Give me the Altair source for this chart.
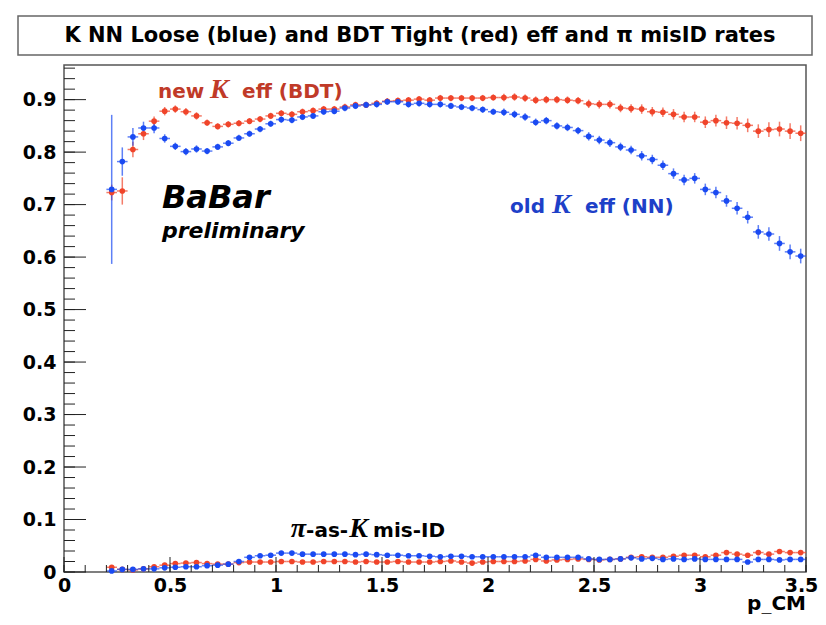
import altair as alt
import pandas as pd
import numpy as np

# ---- data ----
p_cm = [
    0.225, 0.275, 0.325, 0.375, 0.425, 0.475, 0.525, 0.575, 0.625, 0.675,
    0.725, 0.775, 0.825, 0.875, 0.925, 0.975, 1.025, 1.075, 1.125, 1.175,
    1.225, 1.275, 1.325, 1.375, 1.425, 1.475, 1.525, 1.575, 1.625, 1.675,
    1.725, 1.775, 1.825, 1.875, 1.925, 1.975, 2.025, 2.075, 2.125, 2.175,
    2.225, 2.275, 2.325, 2.375, 2.425, 2.475, 2.525, 2.575, 2.625, 2.675,
    2.725, 2.775, 2.825, 2.875, 2.925, 2.975, 3.025, 3.075, 3.125, 3.175,
    3.225, 3.275, 3.325, 3.375, 3.425, 3.475,
]
nn_eff = [
    0.729, 0.782, 0.829, 0.846, 0.846, 0.826, 0.811, 0.801, 0.806, 0.802,
    0.810, 0.817, 0.827, 0.835, 0.844, 0.854, 0.862, 0.861, 0.867, 0.869,
    0.877, 0.878, 0.884, 0.888, 0.890, 0.891, 0.896, 0.896, 0.891, 0.893,
    0.891, 0.891, 0.888, 0.886, 0.884, 0.881, 0.877, 0.876, 0.872, 0.867,
    0.857, 0.860, 0.850, 0.847, 0.841, 0.830, 0.823, 0.818, 0.810, 0.804,
    0.793, 0.786, 0.775, 0.759, 0.747, 0.750, 0.729, 0.723, 0.707, 0.693,
    0.676, 0.648, 0.644, 0.626, 0.610, 0.602,
]
nn_err = [
    0.142, 0.027, 0.017, 0.012, 0.010, 0.008, 0.007, 0.007, 0.007, 0.006,
    0.006, 0.006, 0.006, 0.006, 0.006, 0.006, 0.006, 0.006, 0.006, 0.006,
    0.006, 0.006, 0.006, 0.006, 0.006, 0.006, 0.006, 0.006, 0.006, 0.006,
    0.006, 0.006, 0.006, 0.006, 0.006, 0.006, 0.006, 0.007, 0.007, 0.007,
    0.007, 0.007, 0.007, 0.007, 0.007, 0.008, 0.008, 0.008, 0.008, 0.008,
    0.009, 0.009, 0.009, 0.010, 0.010, 0.010, 0.011, 0.011, 0.011, 0.012,
    0.012, 0.013, 0.013, 0.014, 0.014, 0.014,
]
bdt_eff = [
    0.723, 0.726, 0.805, 0.835, 0.859, 0.878, 0.882, 0.877, 0.869, 0.856,
    0.849, 0.853, 0.855, 0.859, 0.863, 0.869, 0.874, 0.872, 0.877, 0.879,
    0.882, 0.882, 0.886, 0.890, 0.890, 0.893, 0.897, 0.898, 0.899, 0.901,
    0.899, 0.903, 0.903, 0.903, 0.903, 0.903, 0.904, 0.904, 0.905, 0.903,
    0.899, 0.900, 0.900, 0.899, 0.898, 0.892, 0.891, 0.891, 0.884, 0.883,
    0.882, 0.877, 0.876, 0.872, 0.867, 0.867, 0.857, 0.860, 0.856, 0.855,
    0.851, 0.840, 0.843, 0.844, 0.840, 0.836,
]
bdt_err = [
    0.015, 0.026, 0.015, 0.012, 0.009, 0.008, 0.007, 0.007, 0.007, 0.006,
    0.006, 0.006, 0.006, 0.006, 0.006, 0.006, 0.006, 0.006, 0.006, 0.006,
    0.006, 0.006, 0.006, 0.006, 0.006, 0.006, 0.006, 0.006, 0.006, 0.006,
    0.006, 0.006, 0.006, 0.006, 0.006, 0.006, 0.006, 0.007, 0.007, 0.007,
    0.007, 0.007, 0.007, 0.007, 0.007, 0.008, 0.008, 0.008, 0.008, 0.008,
    0.009, 0.009, 0.009, 0.010, 0.010, 0.010, 0.011, 0.011, 0.012, 0.012,
    0.013, 0.013, 0.014, 0.014, 0.015, 0.015,
]
nn_misid = [
    0.002, 0.005, 0.005, 0.006, 0.006, 0.008, 0.009, 0.010, 0.010, 0.012,
    0.013, 0.015, 0.020, 0.028, 0.031, 0.032, 0.036, 0.036, 0.034, 0.034,
    0.034, 0.034, 0.034, 0.033, 0.034, 0.033, 0.032, 0.032, 0.031, 0.031,
    0.030, 0.029, 0.030, 0.030, 0.029, 0.029, 0.029, 0.029, 0.029, 0.029,
    0.032, 0.028, 0.028, 0.028, 0.028, 0.025, 0.024, 0.024, 0.025, 0.027,
    0.025, 0.026, 0.024, 0.025, 0.024, 0.025, 0.024, 0.024, 0.024, 0.024,
    0.019, 0.024, 0.024, 0.023, 0.024, 0.024,
]
bdt_misid = [
    0.009, 0.005, 0.004, 0.006, 0.010, 0.013, 0.016, 0.017, 0.018, 0.016,
    0.015, 0.015, 0.018, 0.019, 0.019, 0.019, 0.020, 0.020, 0.019, 0.019,
    0.020, 0.020, 0.020, 0.019, 0.020, 0.019, 0.019, 0.020, 0.019, 0.019,
    0.019, 0.020, 0.021, 0.019, 0.017, 0.019, 0.020, 0.020, 0.020, 0.021,
    0.024, 0.021, 0.023, 0.024, 0.025, 0.024, 0.023, 0.024, 0.025, 0.028,
    0.029, 0.028, 0.028, 0.030, 0.032, 0.032, 0.029, 0.032, 0.037, 0.034,
    0.032, 0.037, 0.034, 0.039, 0.037, 0.037,
]
bin_half_width = 0.025

x_tick_values = [0, 0.5, 1, 1.5, 2, 2.5, 3, 3.5]
y_tick_values = [0, 0.1, 0.2, 0.3, 0.4, 0.5, 0.6, 0.7, 0.8, 0.9]
x_minor_ticks = [round(v, 2) for v in np.arange(0, 3.501, 0.1)]
y_minor_ticks = [round(v, 2) for v in np.arange(0, 0.961, 0.02)]

title_text = "K NN Loose (blue) and BDT Tight (red) eff and \u03c0 misID rates"

BLUE = "#1a4af2"
RED = "#f0442a"
W, H = 742, 507

# ---- tables ----
frames = []
for order, (series, kind, vals, errs) in enumerate([
    ("BDT", "misid", bdt_misid, None),
    ("NN", "misid", nn_misid, None),
    ("BDT", "eff", bdt_eff, bdt_err),
    ("NN", "eff", nn_eff, nn_err),
]):
    d = pd.DataFrame({"p": p_cm, "val": vals})
    d["err"] = errs if errs is not None else [0.0] * len(p_cm)
    d["series"] = series
    d["kind"] = kind
    d["order"] = order
    frames.append(d)
df = pd.concat(frames, ignore_index=True)
df["lo"] = df["val"] - df["err"]
df["hi"] = df["val"] + df["err"]
df["plo"] = df["p"] - bin_half_width
df["phi"] = df["p"] + bin_half_width

xscale = alt.Scale(domain=[0, 3.5], nice=False, zero=False)
yscale = alt.Scale(domain=[0, 0.966], nice=False, zero=False)
color = alt.Color("series:N", scale=alt.Scale(domain=["NN", "BDT"], range=[BLUE, RED]), legend=None)

base = alt.Chart(df)

xaxis = alt.Axis(
    values=x_tick_values, format="~g", title=None, labelFlush=False,
    labelOffset={"condition": {"test": "datum.value === 3.5", "value": -5}, "value": 0},
)
yaxis = alt.Axis(values=y_tick_values, format="~g", title=None, labelFlush=False)

vbars = base.transform_filter("datum.kind == 'eff'").mark_rule(strokeWidth=1.5, opacity=0.7).encode(
    x=alt.X("p:Q", scale=xscale, axis=xaxis),
    y=alt.Y("lo:Q", scale=yscale, axis=yaxis),
    y2="hi:Q",
    color=color,
    detail="order:N",
)
hbars = base.mark_rule(strokeWidth=1.5, opacity=0.7).encode(
    x=alt.X("plo:Q", title=None),
    x2="phi:Q",
    y=alt.Y("val:Q", title=None),
    color=color,
    detail="order:N",
)
points = base.mark_circle(size=32, opacity=1).encode(
    x=alt.X("p:Q", title=None),
    y=alt.Y("val:Q", title=None),
    color=color,
    order="order:Q",
)

# ---- ROOT-style inward ticks ----
xt_minor = alt.Chart(pd.DataFrame({"t": x_minor_ticks})).mark_rule(color="#222", strokeWidth=1).encode(
    x=alt.X("t:Q", title=None), y=alt.value(H), y2=alt.value(H - 7))
xt_major = alt.Chart(pd.DataFrame({"t": x_tick_values})).mark_rule(color="#222", strokeWidth=1).encode(
    x=alt.X("t:Q", title=None), y=alt.value(H), y2=alt.value(H - 15))
yt_minor = alt.Chart(pd.DataFrame({"t": y_minor_ticks})).mark_rule(color="#222", strokeWidth=1).encode(
    y=alt.Y("t:Q", title=None), x=alt.value(0), x2=alt.value(11))
yt_major = alt.Chart(pd.DataFrame({"t": y_tick_values})).mark_rule(color="#222", strokeWidth=1).encode(
    y=alt.Y("t:Q", title=None), x=alt.value(0), x2=alt.value(22))

# ---- annotations ----
sans_ann = pd.DataFrame({
    "text": ["new", "eff (BDT)", "old", "eff (NN)", "-as-", "mis-ID"],
    "x": [0.443, 0.840, 2.104, 2.458, 1.142, 1.458],
    "y": [0.904, 0.904, 0.684, 0.684, 0.066, 0.066],
    "c": ["#c03a28", "#c03a28", "#1d40c8", "#1d40c8", "#000000", "#000000"],
})
serif_ann = pd.DataFrame({
    "text": ["K", "K", "\u03c0", "K"],
    "x": [0.689, 2.302, 1.070, 1.346],
    "y": [0.904, 0.684, 0.066, 0.066],
    "c": ["#c03a28", "#1d40c8", "#000000", "#000000"],
})
babar_ann = pd.DataFrame({
    "text": ["BaBar", "preliminary"],
    "x": [0.462, 0.462],
    "y": [0.693, 0.636],
    "s": [32, 22],
})

sans_txt = alt.Chart(sans_ann).mark_text(
    font="DejaVu Sans", fontWeight="bold", fontSize=20, align="left", baseline="alphabetic"
).encode(x=alt.X("x:Q", title=None), y=alt.Y("y:Q", title=None), text="text:N",
         color=alt.Color("c:N", scale=None))
serif_txt = alt.Chart(serif_ann).mark_text(
    font="Liberation Serif", fontWeight="bold", fontStyle="italic", fontSize=28, align="left",
    baseline="alphabetic"
).encode(x=alt.X("x:Q", title=None), y=alt.Y("y:Q", title=None), text="text:N",
         color=alt.Color("c:N", scale=None))
babar_txt = alt.Chart(babar_ann).mark_text(
    font="DejaVu Sans", fontWeight="bold", fontStyle="italic", align="left", baseline="alphabetic",
    color="black"
).encode(x=alt.X("x:Q", title=None), y=alt.Y("y:Q", title=None), text="text:N",
         size=alt.Size("s:Q", scale=None))

one = pd.DataFrame({"a": [0]})
title_box = alt.Chart(one).mark_rect(fill="white", stroke="#666", strokeWidth=1.5).encode(
    x=alt.value(-46), x2=alt.value(748), y=alt.value(-49), y2=alt.value(-10))
title_txt = alt.Chart(one).mark_text(
    font="DejaVu Sans", fontWeight="bold", fontSize=21, align="center", baseline="middle", color="black"
).encode(x=alt.value(356), y=alt.value(-29), text=alt.value(title_text))
xlabel = alt.Chart(one).mark_text(
    font="DejaVu Sans", fontWeight="bold", fontSize=20, align="right", baseline="alphabetic", color="black"
).encode(x=alt.value(W), y=alt.value(H + 38), text=alt.value("p_CM"))

chart = alt.layer(
    vbars, hbars, points, xt_minor, xt_major, yt_minor, yt_major,
    sans_txt, serif_txt, babar_txt, title_box, title_txt, xlabel,
).properties(
    width=W, height=H,
    autosize=alt.AutoSizeParams(type="none"),
    padding={"left": 56, "top": 57, "right": 12, "bottom": 42},
).configure_view(
    stroke="#555", strokeWidth=1.5
).configure_axis(
    ticks=False, domain=False, grid=False,
    labelFont="DejaVu Sans", labelFontWeight="bold", labelFontSize=19, labelColor="black",
).configure_axisX(labelPadding=4).configure_axisY(labelPadding=8)

chart.save("out.html", embed_options={"renderer": "svg", "actions": False})
